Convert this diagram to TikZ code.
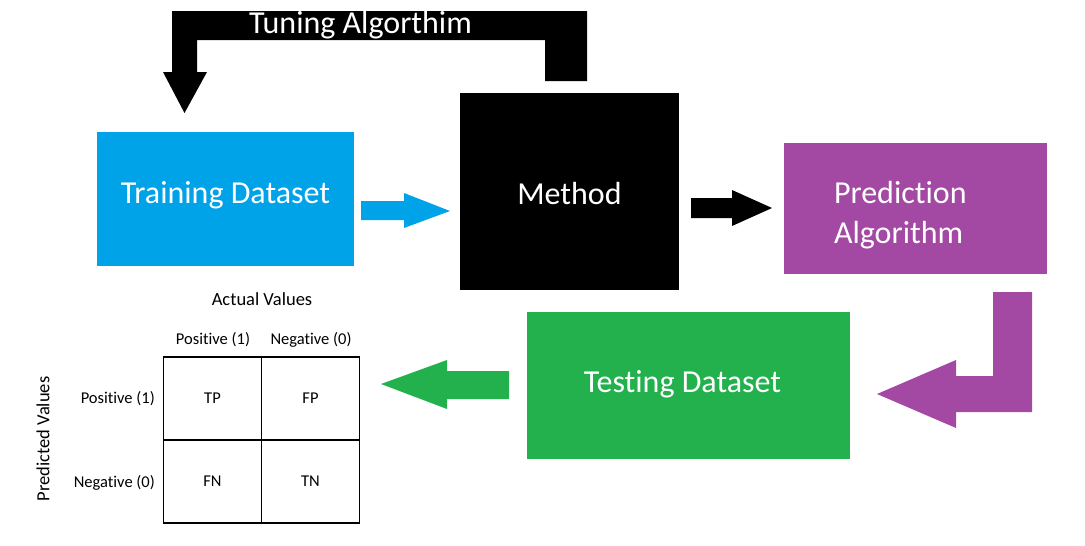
\documentclass[tikz,border=0pt]{standalone}
\usepackage{fontspec}
\setmainfont{Carlito}[Ligatures=NoCommon]
\usetikzlibrary{positioning}
\definecolor{trainblue}{HTML}{00A2E8}
\definecolor{predpurple}{HTML}{A349A4}
\definecolor{testgreen}{HTML}{22B14C}
\begin{document}
\begin{tikzpicture}[x=1pt,y=-1pt,
  box/.style={rectangle, inner sep=0pt, text=white, font=\fontsize{32}{40}\selectfont},
  small/.style={font=\fontsize{16.5}{20}\selectfont, inner sep=0pt},
  axis title/.style={font=\fontsize{18.5}{22}\selectfont, inner sep=0pt},
  cell/.style={draw, line width=1.3pt, minimum width=98, minimum height=83, small}]
  \useasboundingbox (0,0) rectangle (1085,546);
  % boxes
  \node[box, fill=trainblue, minimum width=257, minimum height=134, text height=22, text depth=14] (train) at (225.5,199) {Training Dataset};
  \node[box, fill=black, minimum width=219, minimum height=197, text height=32, text depth=7] (method) at (569.5,191.5) {Method};
  \node[box, fill=predpurple, minimum width=263, minimum height=131, text width=163, align=left, text height=22, text depth=33] (pred) at (915.5,208.5) {Prediction\\Algorithm};
  \node[box, fill=testgreen, minimum width=323, minimum height=147, text height=22, text depth=9] (test) at (688.5,385.5) {Testing Dataset\hspace*{12pt}};
  % block arrows
  \fill[black] (172,11) -- (587,11) -- (587,81) -- (545,81) -- (545,40) -- (197,40) -- (197,72)
    -- (207,72) -- (184.5,113) -- (163,72) -- (172,72) -- cycle;
  \node[text=white, anchor=base, font=\fontsize{32}{40}\selectfont, inner sep=0pt] (tune) at (360.5,33) {Tuning Algorthim};
  \fill[trainblue] (361,201) -- (404,201) -- (404,193) -- (450,211) -- (404,228) -- (404,220) -- (361,220) -- cycle;
  \fill[black] (691,198) -- (732,198) -- (732,190) -- (772,208) -- (732,226) -- (732,218) -- (691,218) -- cycle;
  \fill[predpurple] (993,292) -- (1032,292) -- (1032,412) -- (956,412) -- (956,428) -- (877,394)
    -- (956,360) -- (956,376) -- (993,376) -- cycle;
  \fill[testgreen] (509,371) -- (447,371) -- (447,360) -- (381,384) -- (447,409) -- (447,399) -- (509,399) -- cycle;
  % confusion matrix
  \node[cell] (tp) at (212.5,398.5) {TP};
  \node[cell] (fp) at (310.5,398.5) {FP};
  \node[cell] (fn) at (212.5,481.5) {FN};
  \node[cell] (tn) at (310.5,481.5) {TN};
  \node[small] (colpos) at (213,340) {Positive (1)};
  \node[small] (colneg) at (311,340) {Negative (0)};
  \node[axis title] (actual) at (262,299) {Actual Values};
  \node[small, anchor=east] (rowpos) at (155,399) {Positive (1)};
  \node[small, anchor=east] (rowneg) at (155,483) {Negative (0)};
  \node[axis title, rotate=90] (predicted) at (43,439) {Predicted Values};
\end{tikzpicture}
\end{document}
